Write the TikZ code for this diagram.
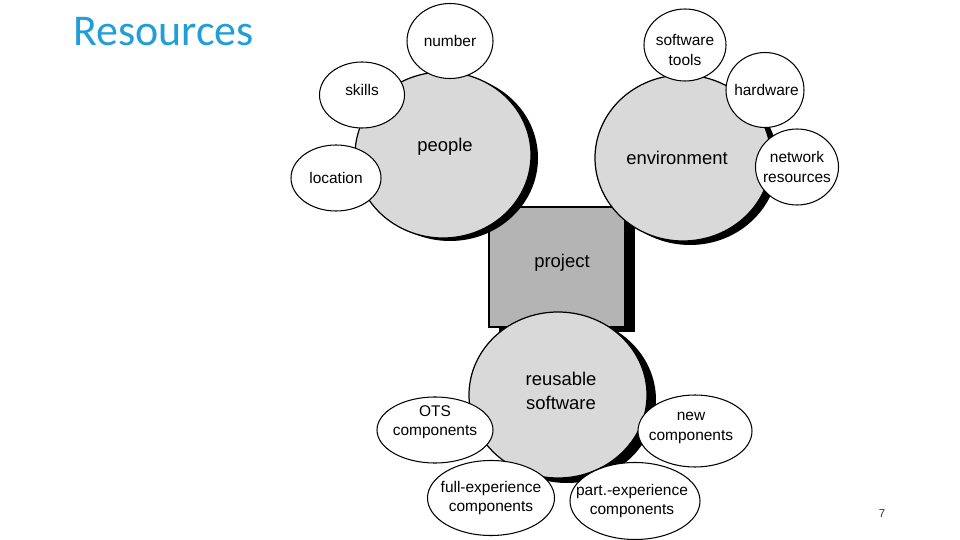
\documentclass[tikz,border=0pt]{standalone}
\usepackage{fontspec}
\setmainfont{Liberation Sans}
\newfontfamily\titlefont{Carlito}
\usepackage{xcolor}
\definecolor{titleblue}{RGB}{32,158,218}
\definecolor{bigfill}{RGB}{217,217,217}
\definecolor{boxfill}{RGB}{180,180,180}
\usepackage{tikz}
\usetikzlibrary{
  shapes.geometric,
  shadows
}

\begin{document}
\begin{tikzpicture}[
  x=0.02cm, y=-0.02cm,
  bigc/.style 2 args={
    ellipse, draw, line width=0.7pt, fill=bigfill, inner sep=0pt,
    minimum width=#1*0.02cm, minimum height=#2*0.02cm,
  },
  smallc/.style 2 args={
    ellipse, draw, line width=0.6pt, fill=white, inner sep=0pt,
    minimum width=#1*0.02cm, minimum height=#2*0.02cm,
  },
  shd/.style 2 args={
    drop shadow={shadow xshift=#1*0.02cm, shadow yshift=-#2*0.02cm,
      fill=black, opacity=1},
  },
  projbox/.style={
    draw, line width=0.6pt, fill=boxfill, inner sep=0pt,
    minimum width=2.72cm, minimum height=2.4cm,
  },
  biglbl/.style={font=\fontsize{10.5}{13.6}\selectfont, align=center},
  lbl/.style={font=\fontsize{8.8}{11}\selectfont, align=center},
]
\useasboundingbox (0,0) rectangle (960,540);

% Title and page number
\node[anchor=west, font=\titlefont\fontsize{25}{28}\selectfont, text=titleblue]
  (title) at (67,32) {Resources};
\node[font=\fontsize{6.5}{8}\selectfont, text=black!80] (pagenum) at (882,514) {7};

% Centre box
\node[projbox, shd={10}{5}, label={[biglbl, yshift=0.08cm, xshift=0.1cm]center:project}]
  (project) at (557,267) {};

% Big circles
\node[bigc={176}{166}, shd={7}{3}, label={[biglbl, yshift=0.16cm, xshift=0.04cm]center:people}]
  (people) at (443,155) {};
\node[bigc={176}{166}, shd={7}{4}, label={[biglbl, xshift=-0.12cm]center:environment}]
  (env) at (683,158) {};
\node[bigc={178}{166}, shd={9}{5}, label={[biglbl, yshift=0.08cm, xshift=0.06cm]center:reusable\\software}]
  (reuse) at (558,395) {};

% People parts
\node[smallc={86}{75}, label={[lbl]center:number}] (number) at (450,41) {};
\node[smallc={85}{66}, label={[lbl, yshift=0.1cm]center:skills}] (skills) at (362,95) {};
\node[smallc={90}{66}, label={[lbl]center:location}] (location) at (336,178) {};

% Environment parts
\node[smallc={82}{72}, label={[lbl, yshift=-0.1cm]center:software\\tools}] (tools) at (685,45) {};
\node[smallc={78}{75}, label={[lbl, xshift=0.03cm]center:hardware}] (hardware) at (765,90) {};
\node[smallc={83}{76}, label={[lbl]center:network\\resources}] (network) at (797,167) {};

% Reusable software parts
\node[smallc={116}{66}, label={[lbl, yshift=0.16cm]center:OTS\\components}] (ots) at (435,430) {};
\node[smallc={114}{72}, label={[lbl, yshift=0.06cm, xshift=-0.08cm]center:new\\components}] (newc) at (695,431) {};
\node[smallc={127}{75}, label={[lbl]center:full-experience\\components}] (fullx) at (491,498) {};
\node[smallc={130}{77}, label={[lbl, xshift=-0.06cm]center:part.-experience\\components}] (partx) at (635,501) {};

\end{tikzpicture}
\end{document}
